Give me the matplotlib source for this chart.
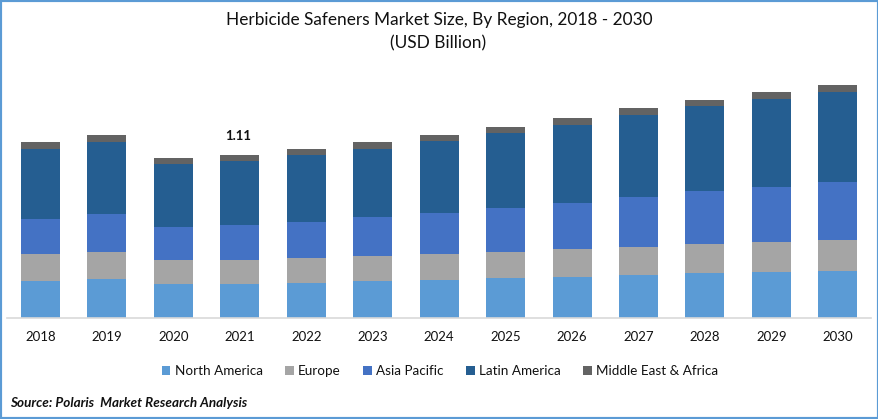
import matplotlib
matplotlib.use('Agg')
import matplotlib.pyplot as plt
import numpy as np
from matplotlib.patches import Rectangle

plt.rcParams['font.family'] = ['Lato', 'DejaVu Sans']

years = ['2018', '2019', '2020', '2021', '2022', '2023', '2024', '2025', '2026', '2027', '2028', '2029', '2030']
north_america = [.252, .266, .232, .232, .238, .252, .259, .272, .279, .293, .306, .313, .320]
europe = [.184, .184, .163, .163, .170, .170, .177, .177, .191, .191, .197, .204, .211]
asia_pacific = [.238, .259, .225, .238, .245, .266, .279, .300, .313, .341, .361, .375, .395]
latin_america = [.477, .490, .429, .436, .456, .463, .490, .511, .531, .558, .579, .599, .613]
middle_east = [.048, .048, .041, .041, .041, .048, .041, .041, .048, .048, .041, .048, .048]

names = ['North America', 'Europe', 'Asia Pacific', 'Latin America', 'Middle East & Africa']
colors = ['#5B9BD5', '#A5A5A5', '#4472C4', '#255E91', '#636363']
series = [north_america, europe, asia_pacific, latin_america, middle_east]

W, H = 879, 419
fig = plt.figure(figsize=(W / 100, H / 100), dpi=100, facecolor='white')
# plot area in pixels: x 7-871, baseline at y 318
ax = fig.add_axes([7 / W, 1 - 318 / H, 864 / W, 258 / H])

bottom = np.zeros(len(years))
for vals, name, c in zip(series, names, colors):
    ax.bar(range(len(years)), vals, 0.587, bottom=bottom, color=c, label=name)
    bottom = bottom + np.array(vals)

ax.set_xlim(-0.5045, 12.5)
ax.set_ylim(0, 258 * 0.00681)
ax.set_yticks([])
ax.set_xticks(range(len(years)))
ax.set_xticklabels(years, fontsize=9.5, color='#111111')
ax.tick_params(axis='x', length=0, pad=9.5)
for s in ['top', 'left', 'right']:
    ax.spines[s].set_visible(False)
ax.spines['bottom'].set_color('#D9D9D9')
ax.spines['bottom'].set_linewidth(1.2)

ax.text(2.98, 1.24, '1.11', ha='center', va='center', fontsize=9.5, fontweight='bold', color='#111111')

fig.text(0.5, 1 - 20 / H, 'Herbicide Safeners Market Size, By Region, 2018 - 2030',
         ha='center', va='center', fontsize=12.4, color='#111111')
fig.text(0.5 - 1 / W, 1 - 43 / H, '(USD Billion)', ha='center', va='center', fontsize=12.4, color='#111111')

fig.legend(loc='center', bbox_to_anchor=(440 / W, 1 - 371 / H), ncol=5, frameon=False, fontsize=9.7,
           handlelength=0.62, handleheight=0.62, handletextpad=0.3, columnspacing=1.7, labelcolor='#111111',
           borderpad=0)

fig.text(10 / W, 1 - 403 / H, 'Source: Polaris  Market Research Analysis', ha='left', va='center',
         fontsize=9.7, fontweight='bold', fontstyle='italic', color='#111111')

# blue frame round the whole picture
fig.add_artist(Rectangle((0, 0), 1, 1, transform=fig.transFigure, fill=False, edgecolor='#5B9BD5', linewidth=3))

fig.savefig('out.png', dpi=100)
